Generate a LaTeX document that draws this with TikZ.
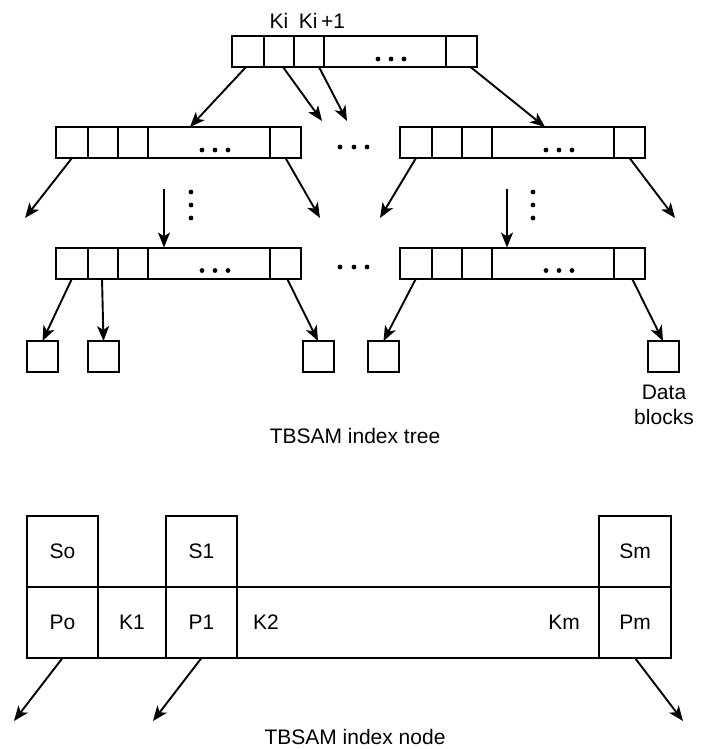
\documentclass[tikz,border=0pt]{standalone}
\usepackage{fontspec}
\setmainfont{Liberation Sans}
\usetikzlibrary{arrows.meta,calc}
\tikzset{
  cell/.style={draw, line width=2pt, inner sep=0pt, outer sep=0pt, minimum height=31pt},
  dblock/.style={draw, line width=2pt, inner sep=0pt, outer sep=0pt, minimum width=31pt, minimum height=31pt},
  pcell/.style={draw, line width=2pt, inner sep=0pt, outer sep=0pt, minimum height=71pt},
  conn/.style={line width=1.9pt, -{Stealth[length=15pt,width=12pt,inset=4pt]}},
  lbl/.style={inner sep=0pt, font=\fontsize{21}{25}\selectfont},
  dotc/.style={fill=black}
}
\newcommand{\treenode}[3]{%
  \node[cell, minimum width=32pt] (#1a) at (#2+16,#3) {};
  \node[cell, minimum width=30pt, anchor=west] (#1b) at (#1a.east) {};
  \node[cell, minimum width=30pt, anchor=west] (#1c) at (#1b.east) {};
  \node[cell, minimum width=122pt, anchor=west] (#1d) at (#1c.east) {};
  \node[cell, minimum width=31pt, anchor=west] (#1e) at (#1d.east) {};
  \foreach \dx in {-7,6,19}{\fill[dotc] ([shift={(\dx,7.5)}]#1d.center) circle (2.4pt);}
}
\begin{document}
\begin{tikzpicture}[x=1pt,y=-1pt]
\useasboundingbox (0,0) rectangle (710,749);
% tree nodes
\treenode{T}{232}{51.5}
\treenode{L}{56}{142.5}
\treenode{R}{400}{142.5}
\treenode{BL}{56}{263}
\treenode{BR}{400}{263}
% key labels
\node[lbl, anchor=base] (ki) at (279,29) {Ki};
\node[lbl, anchor=base] (ki1) at (322,29) {Ki\,+1};
% data blocks
\node[dblock] (D1) at (42.5,356.5) {};
\node[dblock] (D2) at (103.5,356.5) {};
\node[dblock] (D3) at (318,356.5) {};
\node[dblock] (D4) at (383.5,356.5) {};
\node[dblock] (D5) at (663,356.5) {};
\node[lbl, align=center] (dbl) at (664,405) {Data\\blocks};
% free ends
\coordinate (tb) at (322,121);
\coordinate (tc) at (347,121);
\coordinate (la) at (25,218);
\coordinate (le) at (320,218);
\coordinate (ra) at (380,218);
\coordinate (re) at (675,218);
\coordinate (lv) at (164,189);
\coordinate (rv) at (507,189);
% top arrows
\draw[conn] ([xshift=-2pt]Ta.south) -- ([xshift=-19pt]Ld.north);
\draw[conn] ([xshift=4pt]Tb.south) -- (tb);
\draw[conn] ([xshift=10pt]Tc.south) -- (tc);
\draw[conn] ([xshift=9pt]Te.south) -- ([xshift=-8pt]Rd.north);
% middle arrows
\draw[conn] (La.south) -- (la);
\draw[conn] (Le.south) -- (le);
\draw[conn] (Ra.south) -- (ra);
\draw[conn] (Re.south) -- (re);
\draw[conn] (lv) -- (lv |- BLd.north);
\draw[conn] (rv) -- (rv |- BRd.north);
% bottom arrows
\draw[conn] (BLa.south) -- (D1.north);
\draw[conn] ([xshift=-1pt]BLb.south) -- (D2.north);
\draw[conn] ([xshift=1.5pt]BLe.south) -- (D3.north);
\draw[conn] (BRa.south) -- (D4.north);
\draw[conn] ([xshift=2.5pt]BRe.south) -- (D5.north);
% dots between
\foreach \yy in {147,267}{\foreach \xx in {340,354,367}{\fill[dotc] (\xx,\yy) circle (2.4pt);}}
\foreach \yy in {192,205,218}{\fill[dotc] (191,\yy) circle (2.4pt); \fill[dotc] (533,\yy) circle (2.4pt);}
\node[lbl, anchor=base] (cap1) at (355,443) {TBSAM index tree};
% index node
\node[pcell, minimum width=71pt] (So) at (62.5,551.5) {};
\node[pcell, minimum width=71pt] (S1) at (201.5,551.5) {};
\node[pcell, minimum width=72pt] (Sm) at (635,551.5) {};
\node[pcell, minimum width=71pt] (Po) at (62.5,622.5) {};
\node[pcell, minimum width=68pt, anchor=west] (K1) at (Po.east) {};
\node[pcell, minimum width=71pt, anchor=west] (P1) at (K1.east) {};
\node[pcell, minimum width=362pt, anchor=west] (Kl) at (P1.east) {};
\node[pcell, minimum width=72pt, anchor=west] (Pm) at (Kl.east) {};
\node[lbl] (tSo) at (So.center) {So};
\node[lbl] (tS1) at (S1.center) {S1};
\node[lbl] (tSm) at (Sm.center) {Sm};
\node[lbl] (tPo) at (Po.center) {Po};
\node[lbl] (tK1) at (K1.center) {K1};
\node[lbl] (tP1) at (P1.center) {P1};
\node[lbl] (tPm) at (Pm.center) {Pm};
\node[lbl, anchor=west] (tK2) at ([xshift=16pt]Kl.west) {K2};
\node[lbl, anchor=east] (tKm) at ([xshift=-19pt]Kl.east) {Km};
\coordinate (pa) at (14,721);
\coordinate (pb) at (153,721);
\coordinate (pc) at (683,721);
\draw[conn] (Po.south) -- (pa);
\draw[conn] (P1.south) -- (pb);
\draw[conn] (Pm.south) -- (pc);
\node[lbl, anchor=base] (cap2) at (355,744) {TBSAM index node};
\end{tikzpicture}
\end{document}
